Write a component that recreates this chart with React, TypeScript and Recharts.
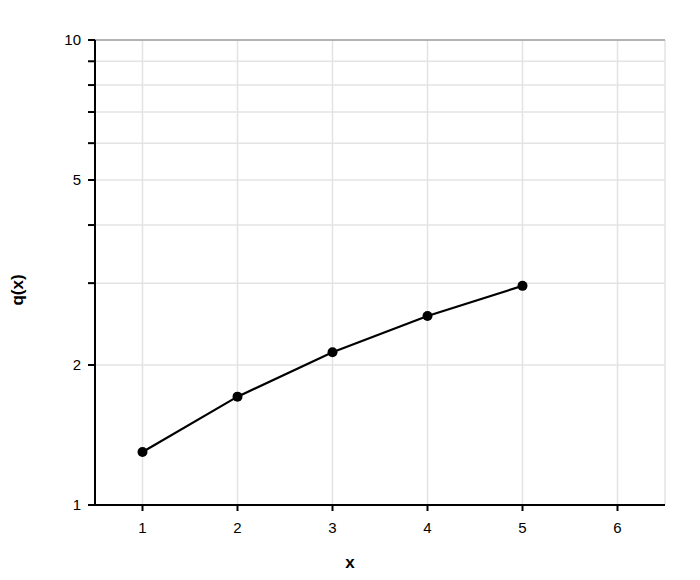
import React from 'react';
import {
  LineChart,
  Line,
  XAxis,
  YAxis,
  CartesianGrid,
  ReferenceLine,
  Label,
} from 'recharts';

const xValues = [1, 2, 3, 4, 5];
const qValues = [1.3, 1.71, 2.13, 2.55, 2.96];

const xTicks = [1, 2, 3, 4, 5, 6];
const yTicks = [1, 2, 3, 4, 5, 6, 7, 8, 9, 10];
const yLabelled = [1, 2, 5, 10];

const data = xValues.map((x, i) => ({ x, q: qValues[i] }));

const font = 'Arial, "Liberation Sans", sans-serif';

export default function App() {
  return (
    <div style={{ position: 'absolute', left: 0, top: 0 }}>
      <LineChart
        width={700}
        height={580}
        data={data}
        margin={{ top: 40, right: 35, bottom: 0, left: 0 }}
      >
        <CartesianGrid stroke="#e3e3e3" strokeWidth={1.5} />
        <ReferenceLine y={10} stroke="#a0a0a0" strokeWidth={1.5} />
        <XAxis
          dataKey="x"
          type="number"
          domain={[0.5, 6.5]}
          ticks={xTicks}
          height={75}
          tickSize={6}
          tickMargin={11}
          stroke="#000"
          strokeWidth={2}
          tick={{ fill: '#000', fontSize: 15, fontFamily: font }}
        >
          <Label
            content={() => (
              <text
                x={350}
                y={568}
                textAnchor="middle"
                fontSize={17}
                fontWeight="bold"
                fontFamily={font}
                fill="#000"
              >
                x
              </text>
            )}
          />
        </XAxis>
        <YAxis
          scale="log"
          domain={[1, 10]}
          allowDataOverflow
          ticks={yTicks}
          interval={0}
          width={95}
          tickSize={7}
          tickMargin={7}
          stroke="#000"
          strokeWidth={2}
          tickFormatter={(v: number) => (yLabelled.includes(v) ? String(v) : '')}
          tick={{ fill: '#000', fontSize: 15, fontFamily: font }}
        >
          <Label
            content={() => (
              <text
                x={23}
                y={290}
                transform="rotate(-90, 23, 290)"
                textAnchor="middle"
                fontSize={17}
                fontWeight="bold"
                fontFamily={font}
                fill="#000"
              >
                q(x)
              </text>
            )}
          />
        </YAxis>
        <Line
          dataKey="q"
          stroke="#000"
          strokeWidth={2.2}
          dot={{ r: 5, fill: '#000', stroke: '#000', strokeWidth: 0 }}
          isAnimationActive={false}
        />
      </LineChart>
    </div>
  );
}
